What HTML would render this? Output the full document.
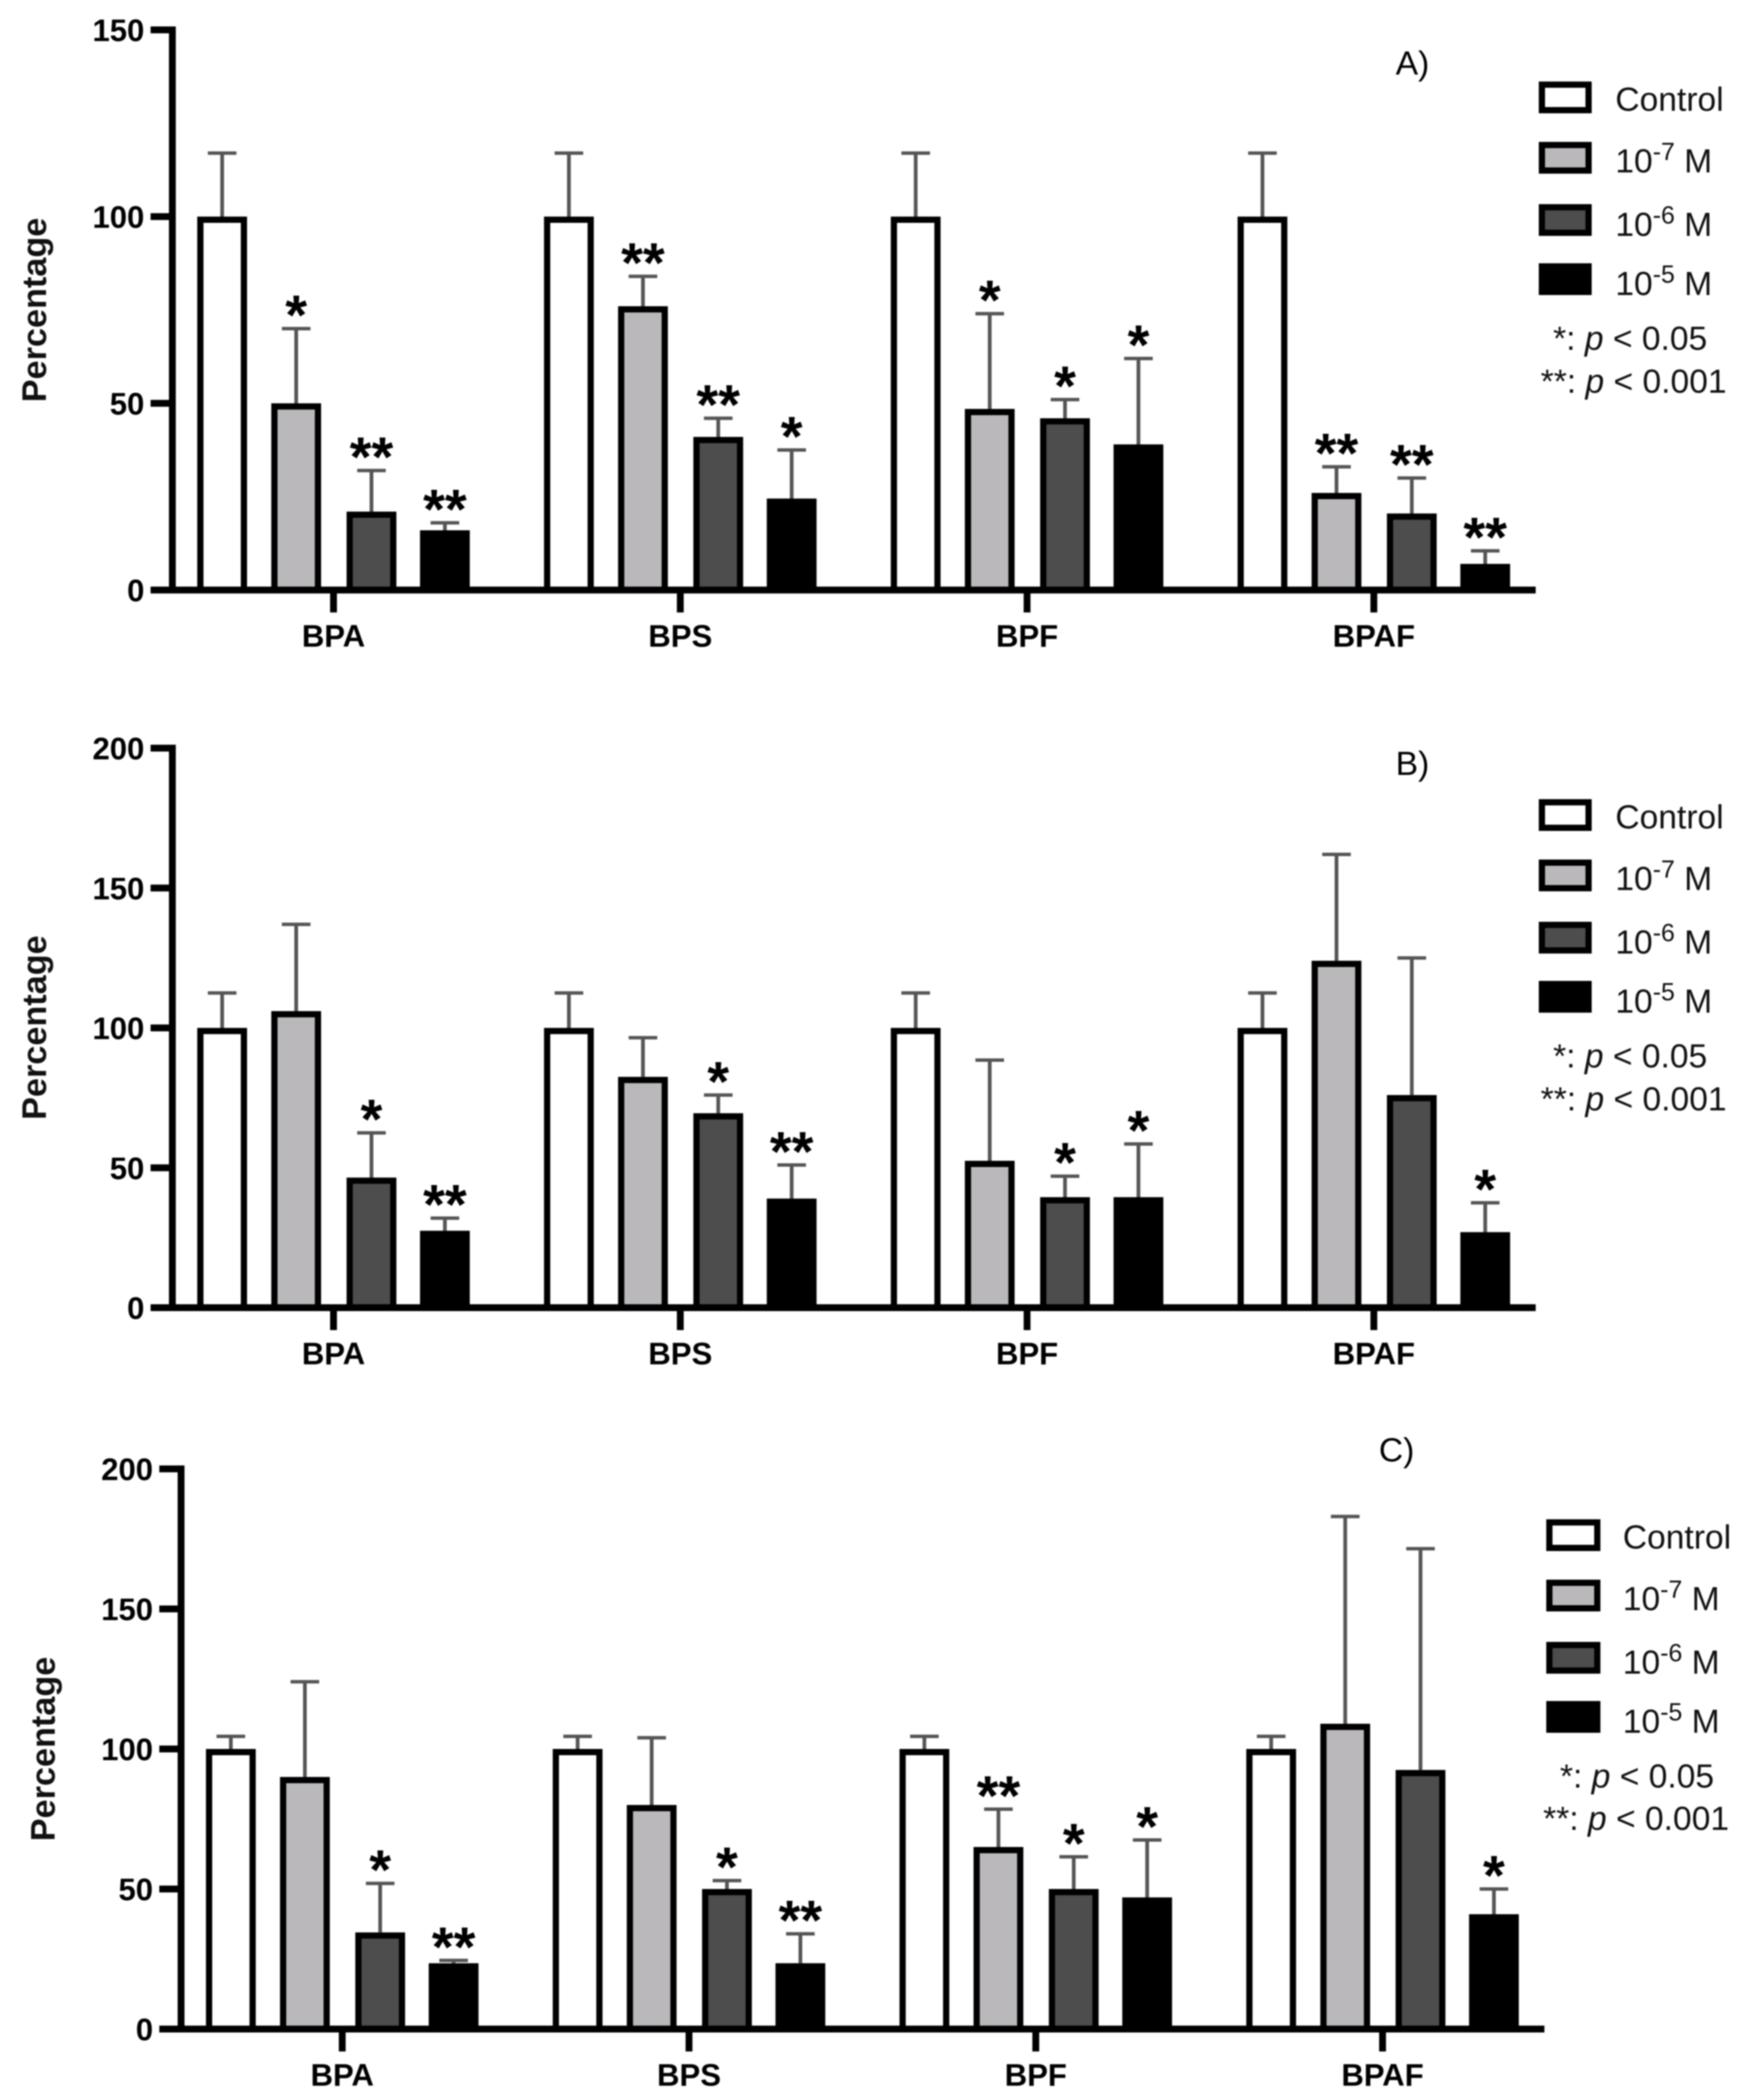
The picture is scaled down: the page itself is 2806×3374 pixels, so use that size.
<!DOCTYPE html>
<html lang="en">
<head>
<meta charset="utf-8">
<title>Percentage by bisphenol and concentration</title>
<style>
html,body{margin:0;padding:0;background:#fff;}
#figure{display:block;width:2806px;height:3374px;filter:blur(1.1px);font-family:"Liberation Sans",Arial,sans-serif;}
</style>
</head>
<body>
<svg id="figure" xmlns="http://www.w3.org/2000/svg" width="2806" height="3374" viewBox="0 0 2806 3374"></svg>
<script>
const categories = ['BPA', 'BPS', 'BPF', 'BPAF'];
const seriesNames = ['Control', '10-7 M', '10-6 M', '10-5 M'];
const seriesExponents = ['', '-7', '-6', '-5'];
const seriesFills = ['#ffffff', '#bab8bb', '#4d4d4d', '#000000'];

const panelATicks = [0, 50, 100, 150];
const panelAMeans = [[100, 50, 21, 16], [100, 76, 41, 24.5], [100, 48.5, 46, 39], [100, 26, 20.5, 7]];
const panelAErrorTops = [[117, 70, 32, 18], [117, 84, 46, 37.5], [117, 74, 51, 62], [117, 33, 30, 10.5]];
const panelAStars = [['', '*', '**', '**'], ['', '**', '**', '*'], ['', '*', '*', '*'], ['', '**', '**', '**']];

const panelBTicks = [0, 50, 100, 150, 200];
const panelBMeans = [[100, 106, 46.5, 27.5], [100, 82.5, 69.5, 39], [100, 52.5, 39.5, 39.5], [100, 124, 76, 27]];
const panelBErrorTops = [[112.5, 137, 62.5, 32], [112.5, 96.5, 76, 51], [112.5, 88.5, 47, 58.5], [112.5, 162, 125, 37.5]];
const panelBStars = [['', '', '*', '**'], ['', '', '*', '**'], ['', '', '*', '*'], ['', '', '', '*']];

const panelCTicks = [0, 50, 100, 150, 200];
const panelCMeans = [[100, 90, 34.5, 23.5], [100, 80, 50, 23.5], [100, 65, 50, 47], [100, 109, 92.5, 41]];
const panelCErrorTops = [[104.5, 124, 52, 24.5], [104.5, 104, 53, 34], [104.5, 78.5, 61.5, 67.5], [104.5, 183, 171.5, 50]];
const panelCStars = [['', '', '*', '**'], ['', '', '*', '**'], ['', '**', '*', '*'], ['', '', '', '*']];

const panels = [
  { id: 'a', label: 'A)', ticks: panelATicks, means: panelAMeans, tops: panelAErrorTops, stars: panelAStars,
    axisX: 277, yMaxPx: 48, yBase: 948, start: 317, labelX: 2243, labelY: 120, legX: 2473, legTextX: 2596,
    legOffset: 0, boxW: 85, pY1: 562, pY2: 631, pX1: 2496, pX2: 2476 },
  { id: 'b', label: 'B)', ticks: panelBTicks, means: panelBMeans, tops: panelBErrorTops, stars: panelBStars,
    axisX: 277, yMaxPx: 1202, yBase: 2101, start: 317, labelX: 2243, labelY: 1245, legX: 2473, legTextX: 2596,
    legOffset: 1153, boxW: 85, pY1: 1715, pY2: 1784, pX1: 2496, pX2: 2476 },
  { id: 'c', label: 'C)', ticks: panelCTicks, means: panelCMeans, tops: panelCErrorTops, stars: panelCStars,
    axisX: 291, yMaxPx: 2360, yBase: 3260, start: 331, labelX: 2216, labelY: 2348, legX: 2485, legTextX: 2608,
    legOffset: 2310, boxW: 87, pY1: 2872, pY2: 2940, pX1: 2507, pX2: 2480 }
];

const NS = 'http://www.w3.org/2000/svg';
const root = document.getElementById('figure');
const BAR_W = 80, GROUP_STEP = 557.3, STROKE = 10, AXIS_W = 11;
const barOffsets = [0, 119, 240, 358];

function make(tag, parent, attrs, text) {
  const el = document.createElementNS(NS, tag);
  for (const k in attrs) el.setAttribute(k, attrs[k]);
  if (text !== undefined) el.textContent = text;
  parent.appendChild(el);
  return el;
}

panels.forEach(function (p) {
  const g = make('g', root, {});
  
  

  const yMaxVal = p.ticks[p.ticks.length - 1];
  const yScale = function (v) { return p.yBase - (v / yMaxVal) * (p.yBase - p.yMaxPx); };
  const barX = function (gi, si) { return p.start + gi * GROUP_STEP + barOffsets[si]; };
  const groupCenter = function (gi) { return p.start + 219 + gi * GROUP_STEP; };

  // error bars (behind bars)
  p.means.forEach(function (row, gi) {
    row.forEach(function (mean, si) {
      const cx = barX(gi, si) + BAR_W / 2;
      const top = yScale(p.tops[gi][si]);
      const stem = make('line', g, { x1: cx, x2: cx, y1: yScale(mean), y2: top, stroke: '#555', 'stroke-width': 6 });
      
      
      const cap = make('line', g, { x1: cx - 23, x2: cx + 23, y1: top, y2: top, stroke: '#555', 'stroke-width': 5.5 });
      
      
    });
  });

  // bars
  p.means.forEach(function (row, gi) {
    row.forEach(function (mean, si) {
      const y = yScale(mean) + STROKE / 2;
      const bar = make('rect', g, {
        x: barX(gi, si) + STROKE / 2, y: y, width: BAR_W - STROKE, height: p.yBase - y,
        fill: seriesFills[si], stroke: '#000', 'stroke-width': STROKE
      });
      
      
    });
  });

  // significance stars
  p.stars.forEach(function (row, gi) {
    row.forEach(function (s, si) {
      if (!s) return;
      const cx = barX(gi, si) + BAR_W / 2;
      const star = make('text', g, {
        x: cx, y: yScale(p.tops[gi][si]) + 9, 'text-anchor': 'middle',
        'font-size': 90, 'font-weight': 'bold', fill: '#000'
      }, s);
      
      
    });
  });

  // y axis
  const yAxis = make('line', g, { x1: p.axisX, x2: p.axisX, y1: p.yMaxPx - AXIS_W / 2, y2: p.yBase + AXIS_W / 2, stroke: '#000', 'stroke-width': AXIS_W });
  
  

  p.ticks.forEach(function (t) {
    const y = yScale(t);
    const tick = make('line', g, { x1: p.axisX - 35, x2: p.axisX, y1: y, y2: y, stroke: '#000', 'stroke-width': AXIS_W });
    
    
    const lbl = make('text', g, {
      x: p.axisX - 45, y: y + 18, 'text-anchor': 'end', 'font-size': 50, 'font-weight': 'bold', fill: '#000'
    }, String(t));
    
    
  });

  // x axis
  const xAxis = make('line', g, { x1: p.axisX - 35, x2: p.axisX + 2191, y1: p.yBase, y2: p.yBase, stroke: '#000', 'stroke-width': AXIS_W });
  
  

  categories.forEach(function (c, gi) {
    const cx = groupCenter(gi);
    const tick = make('line', g, { x1: cx, x2: cx, y1: p.yBase, y2: p.yBase + 36, stroke: '#000', 'stroke-width': AXIS_W });
    
    
    const lbl = make('text', g, {
      x: cx, y: p.yBase + 91, 'text-anchor': 'middle', 'font-size': 50, 'font-weight': 'bold', fill: '#000'
    }, c);
    
    
  });

  // y-axis title
  const yTitleX = p.axisX - 203, yTitleY = p.yBase - 450;
  const title = make('text', g, {
    x: yTitleX, y: yTitleY, 'text-anchor': 'middle', 'font-size': 55, 'font-weight': 'bold', fill: '#111',
    transform: 'rotate(-90 ' + yTitleX + ' ' + yTitleY + ')'
  }, 'Percentage');
  
  

  // panel label
  const panelLabel = make('text', g, { x: p.labelX, y: p.labelY, 'font-size': 54, fill: '#000' }, p.label);
  
  

  // legend
  const legend = make('g', g, {});
  
  
  const boxTops = [131, 228, 328, 423];
  const baselines = [178, 277, 379, 474];
  seriesNames.forEach(function (name, si) {
    const entry = make('g', legend, {});
    
    
    const sw = make('rect', entry, {
      x: p.legX + 5, y: boxTops[si] + p.legOffset + 5, width: p.boxW - 10, height: 41,
      fill: seriesFills[si], stroke: '#000', 'stroke-width': 10
    });
    
    
    const txt = make('text', entry, {
      x: p.legTextX, y: baselines[si] + p.legOffset, 'font-size': 54, fill: '#111'
    });
    
    
    if (seriesExponents[si]) {
      make('tspan', txt, {}, '10');
      make('tspan', txt, { dy: -20, 'font-size': 40 }, seriesExponents[si]);
      make('tspan', txt, { dy: 20 }, ' M');
    } else {
      txt.textContent = name;
    }
  });

  // p-value notes
  const note1 = make('text', legend, { x: p.pX1, y: p.pY1, 'font-size': 54, fill: '#111' });
  
  
  make('tspan', note1, {}, '*: ');
  make('tspan', note1, { 'font-style': 'italic' }, 'p');
  make('tspan', note1, {}, ' < 0.05');

  const note2 = make('text', legend, { x: p.pX2, y: p.pY2, 'font-size': 54, fill: '#111' });
  
  
  make('tspan', note2, {}, '**: ');
  make('tspan', note2, { 'font-style': 'italic' }, 'p');
  make('tspan', note2, {}, ' < 0.001');
});
</script>
</body>
</html>
